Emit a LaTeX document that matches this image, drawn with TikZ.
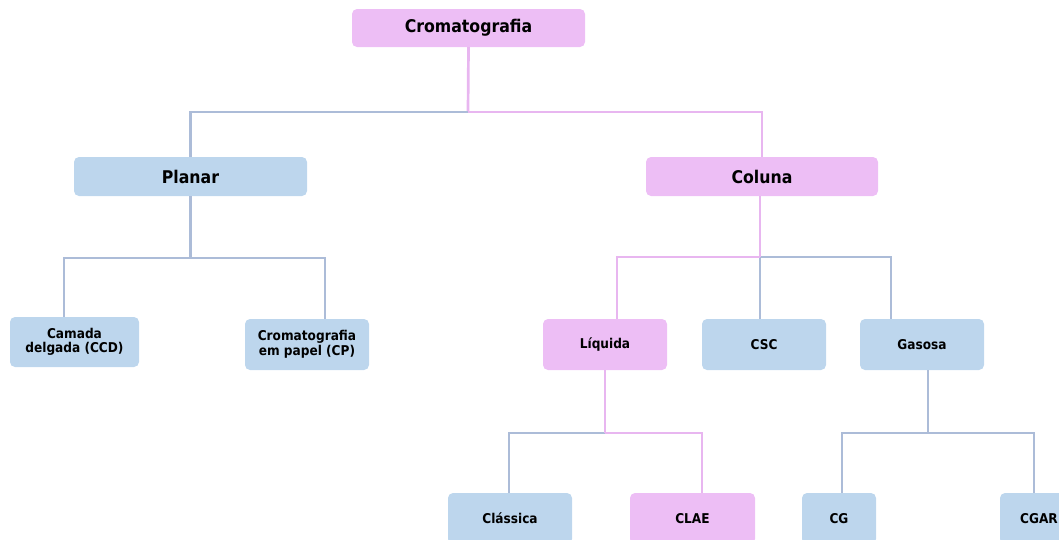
\documentclass[tikz,border=0pt]{standalone}
\usepackage{fontspec}
\setmainfont{DejaVu Sans Condensed}
\definecolor{pinkfill}{RGB}{237,190,245}
\definecolor{bluefill}{RGB}{189,214,237}
\definecolor{pinkline}{RGB}{232,182,240}
\definecolor{blueline}{RGB}{172,188,216}
\begin{document}
\begin{tikzpicture}[x=1pt,y=-1pt,
  box/.style={rounded corners=5pt, inner sep=0pt, align=center, font=\bfseries\fontsize{13.5}{14.5}\selectfont},
  bigbox/.style={box, font=\bfseries\fontsize{17.5}{19}\selectfont},
  pbox/.style={fill=pinkfill},
  bbox/.style={fill=bluefill},
  pl/.style={draw=pinkline, line width=2.7pt},
  bl/.style={draw=blueline, line width=2.7pt}]
\useasboundingbox (0,0) rectangle (1059,539);
\clip (0,0) rectangle (1059,539);
% nodes
\node[bigbox,pbox,minimum width=233pt,minimum height=38pt] (crom) at (468.5,28) {Cromatografia};
\node[bigbox,bbox,minimum width=233pt,minimum height=39pt] (planar) at (190.5,176.5) {Planar};
\node[bigbox,pbox,minimum width=232pt,minimum height=39pt] (coluna) at (762,176.5) {Coluna};
\node[box,bbox,minimum width=129pt,minimum height=50pt] (camada) at (74.5,342) {Camada\\delgada (CCD)};
\node[box,bbox,minimum width=124pt,minimum height=51pt] (cp) at (307,344.5) {Cromatografia\\em papel (CP)};
\node[box,pbox,minimum width=124pt,minimum height=51pt] (liq) at (605,344.5) {Líquida};
\node[box,bbox,minimum width=124pt,minimum height=51pt] (csc) at (764,344.5) {CSC};
\node[box,bbox,minimum width=124pt,minimum height=51pt] (gas) at (922,344.5) {Gasosa};
\node[box,bbox,minimum width=124pt,minimum height=51pt] (cla) at (510,518.5) {Clássica};
\node[box,pbox,minimum width=125pt,minimum height=51pt] (clae) at (692.5,518.5) {CLAE};
\node[box,bbox,minimum width=74pt,minimum height=51pt] (cg) at (839,518.5) {CG};
\node[box,bbox,minimum width=78pt,minimum height=51pt] (cgar) at (1039,518.5) {CGAR};
% junctions
\coordinate (j1) at (468,112);
\coordinate (j2) at (190.5,258);
\coordinate (j3) at (760,257);
\coordinate (j4) at (605,433);
\coordinate (j5) at (928,433);
% connectors level 1
\draw[pl] (crom.south) -- (j1);
\draw[bl] (j1) -| (planar.north);
\draw[pl] (j1) -| (coluna.north);
% planar
\draw[bl] (planar.south) -- (j2);
\draw[bl] (j2) -| ([xshift=-10.5pt]camada.north);
\draw[bl] (j2) -| ([xshift=18pt]cp.north);
% coluna
\draw[bl] (j3) -| ([xshift=-31pt]gas.north);
\draw[bl] (j3) -- ([xshift=-4pt]csc.north);
\draw[pl] ([xshift=-2pt]coluna.south) -- (j3);
\draw[pl] (j3) -| ([xshift=12pt]liq.north);
% liquida
\draw[bl] (j4) -| ([xshift=-1pt]cla.north);
\draw[pl] (liq.south) -- (j4);
\draw[pl] (j4) -| ([xshift=9.5pt]clae.north);
% gasosa
\draw[bl] ([xshift=6pt]gas.south) -- (j5);
\draw[bl] (j5) -| ([xshift=3pt]cg.north);
\draw[bl] (j5) -| ([xshift=-5pt]cgar.north);
\end{tikzpicture}
\end{document}
